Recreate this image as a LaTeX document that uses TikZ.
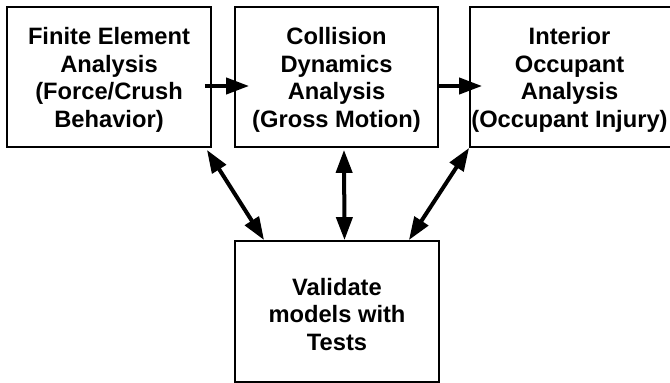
\documentclass[tikz,border=0pt]{standalone}
\usepackage{fontspec}
\setmainfont{Liberation Sans}
\usetikzlibrary{arrows.meta}
\begin{document}
\begin{tikzpicture}[x=1pt,y=1pt,
  box/.style={draw, line width=1.8pt, inner sep=0pt},
  txt/.style={align=center, inner sep=0pt, font=\fontsize{23.7}{27.5}\selectfont\bfseries},
  tip/.style={Triangle[length=23pt,width=16pt]},
  conn/.style={line width=4pt, -{Triangle[length=23pt,width=16pt]}},
  dconn/.style={line width=4pt, {Triangle[length=23pt,width=16pt]}-{Triangle[length=23pt,width=16pt]}}]
\useasboundingbox (0,0) rectangle (670,-383);
\node[box, minimum width=204pt, minimum height=140pt,
  label={[txt,yshift=-3pt]center:Finite Element\\Analysis\\(Force/Crush\\Behavior)}] (b1) at (109,-77) {};
\node[box, minimum width=203pt, minimum height=140pt,
  label={[txt,yshift=-3pt]center:Collision\\Dynamics\\Analysis\\(Gross Motion)}] (b2) at (336.5,-77) {};
\node[box, minimum width=203pt, minimum height=140pt,
  label={[txt,yshift=-3pt,xshift=-2pt]center:Interior\\Occupant\\Analysis\\(Occupant Injury)}] (b3) at (571.5,-77) {};
\node[box, minimum width=204pt, minimum height=141pt,
  label={[txt,yshift=-3pt]center:Validate\\models with\\Tests}] (b4) at (337,-311.5) {};
\draw[conn] ([xshift=-7pt,yshift=-9pt]b1.east) -- ([xshift=15pt,yshift=-9pt]b2.west);
\draw[conn] ([yshift=-9pt]b2.east) -- ([xshift=13pt,yshift=-9pt]b3.west);
\draw[dconn] ([xshift=30pt]b4.north west) -- ([xshift=-5pt,yshift=-2pt]b1.south east);
\draw[dconn] ([xshift=7.5pt]b4.north) -- ([xshift=7.5pt,yshift=-2pt]b2.south);
\draw[dconn] ([xshift=-31pt]b4.north east) -- (b3.south west);
\end{tikzpicture}
\end{document}
